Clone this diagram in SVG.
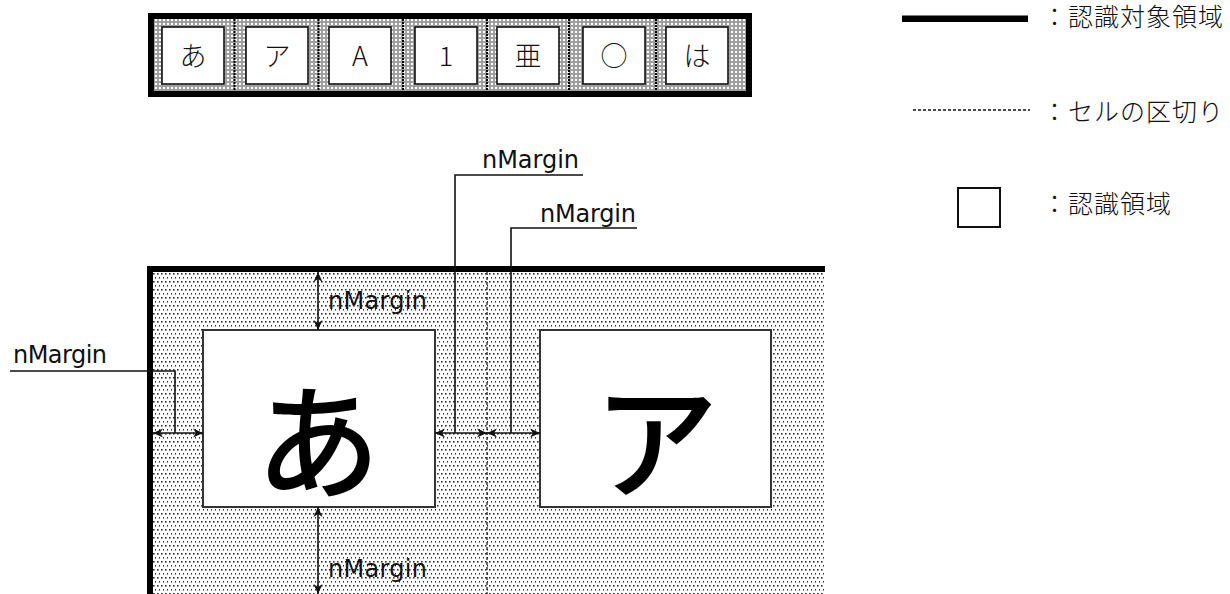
<svg xmlns="http://www.w3.org/2000/svg" width="1230" height="594" viewBox="0 0 1230 594">
<style>
.lbl{font-family:"DejaVu Sans","Liberation Sans",sans-serif;font-size:24px;fill:#111}
.cj{font-family:"Noto Sans CJK JP",sans-serif;font-weight:300;font-size:27px;fill:#111;text-anchor:middle}
.leg{font-family:"Noto Sans CJK JP",sans-serif;font-size:25px;font-weight:300;fill:#111;letter-spacing:1px}
.cellbox{fill:#fff;stroke:#111;stroke-width:1.6}
.rbox{fill:#fff;stroke:#333;stroke-width:2}
.seam{stroke:#000;stroke-width:2;stroke-dasharray:2 1}
.line{fill:none;stroke:#111;stroke-width:1.6}
.arr{fill:none;stroke:#111;stroke-width:1.6;marker-start:url(#ah);marker-end:url(#ah)}
.big{font-family:"Noto Sans CJK JP",sans-serif;font-weight:500;font-size:125px;fill:#000;text-anchor:middle}
</style>
<defs>
<pattern id="chain" width="4" height="4" patternUnits="userSpaceOnUse"><rect width="4" height="4" fill="#fff"/><circle cx="2" cy="2" r="1.3" fill="none" stroke="#000" stroke-width="0.6"/></pattern>
<pattern id="dots" width="4" height="8" patternUnits="userSpaceOnUse"><rect width="4" height="8" fill="#fff"/><rect x="1" y="1" width="1.6" height="1.6" fill="#333"/><rect x="3" y="5" width="1.6" height="1.6" fill="#333"/></pattern>
<marker id="ah" viewBox="0 0 10 10" refX="10" refY="5" markerWidth="10" markerHeight="10" markerUnits="userSpaceOnUse" orient="auto-start-reverse"><path d="M0,0.5 L10,5 L0,9.5 L3,5 z" fill="#111"/></marker>
</defs>

<g id="strip">
<rect x="148" y="13" width="604" height="84" fill="#000"/>
<rect x="154" y="19" width="592" height="72" fill="url(#chain)"/>
<line class="seam" x1="234.5" y1="19" x2="234.5" y2="91"/>
<line class="seam" x1="318.5" y1="19" x2="318.5" y2="91"/>
<line class="seam" x1="403" y1="19" x2="403" y2="91"/>
<line class="seam" x1="487" y1="19" x2="487" y2="91"/>
<line class="seam" x1="569" y1="19" x2="569" y2="91"/>
<line class="seam" x1="656" y1="19" x2="656" y2="91"/>
</g>
<g id="cell-a"><rect class="cellbox" x="162" y="27" width="62" height="57"/><text class="cj" x="193" y="66">あ</text></g>
<g id="cell-ka"><rect class="cellbox" x="246" y="27" width="62" height="57"/><text class="cj" x="277" y="66">ア</text></g>
<g id="cell-A"><rect class="cellbox" x="329" y="27" width="62" height="57"/><text class="cj" x="360" y="66" font-size="30">A</text></g>
<g id="cell-1"><rect class="cellbox" x="415" y="27" width="62" height="57"/><text class="cj" x="446" y="66" font-size="30">1</text></g>
<g id="cell-a2"><rect class="cellbox" x="497" y="27" width="62" height="57"/><text class="cj" x="528" y="66">亜</text></g>
<g id="cell-circle"><rect class="cellbox" x="583" y="27" width="62" height="57"/><text class="cj" x="614" y="66">○</text></g>
<g id="cell-ha"><rect class="cellbox" x="666" y="27" width="62" height="57"/><text class="cj" x="697" y="66">は</text></g>

<g id="legend-target">
<rect x="902" y="15.5" width="126" height="6.5" fill="#000"/>
<text class="leg" x="1042" y="26">：認識対象領域</text>
</g>
<g id="legend-cell">
<line x1="913" y1="110" x2="1030" y2="110" stroke="#111" stroke-width="1.5" stroke-dasharray="3 2"/>
<text class="leg" x="1042" y="121">：セルの区切り</text>
</g>
<g id="legend-area">
<rect x="958" y="188" width="42" height="39" fill="#fff" stroke="#111" stroke-width="2"/>
<text class="leg" x="1042" y="213">：認識領域</text>
</g>

<g id="frame">
<rect x="150" y="269" width="675" height="325" fill="url(#dots)"/>
<path d="M150,594 V269 H825" fill="none" stroke="#000" stroke-width="6" stroke-linejoin="miter"/>
<line x1="487" y1="272" x2="487" y2="594" stroke="#111" stroke-width="1.2" stroke-dasharray="3 2"/>
</g>
<g id="box-a"><rect class="rbox" x="203" y="330" width="232" height="177"/><text class="big" x="318" y="489">あ</text></g>
<g id="box-ka"><rect class="rbox" x="540" y="330" width="231" height="177"/><text class="big" x="656" y="489">ア</text></g>

<g id="labels">
<text class="lbl" x="482" y="168" textLength="97">nMargin</text>
<text class="lbl" x="540" y="222" textLength="96">nMargin</text>
<text class="lbl" x="13" y="363" textLength="94">nMargin</text>
<text class="lbl" x="328" y="309" textLength="99">nMargin</text>
<text class="lbl" x="328" y="577" textLength="99">nMargin</text>
</g>

<g id="connectors">
<path class="line" d="M583,175 H455 V433"/>
<path class="line" d="M637,228 H511 V433"/>
<path class="line" d="M10,371 H175 V433"/>
<line class="arr" x1="153" y1="433" x2="203" y2="433"/>
<line class="arr" x1="435" y1="433" x2="487" y2="433"/>
<line class="arr" x1="487" y1="433" x2="540" y2="433"/>
<line class="arr" x1="318" y1="272" x2="318" y2="330"/>
<line class="arr" x1="318" y1="507" x2="318" y2="594"/>
</g>
</svg>
